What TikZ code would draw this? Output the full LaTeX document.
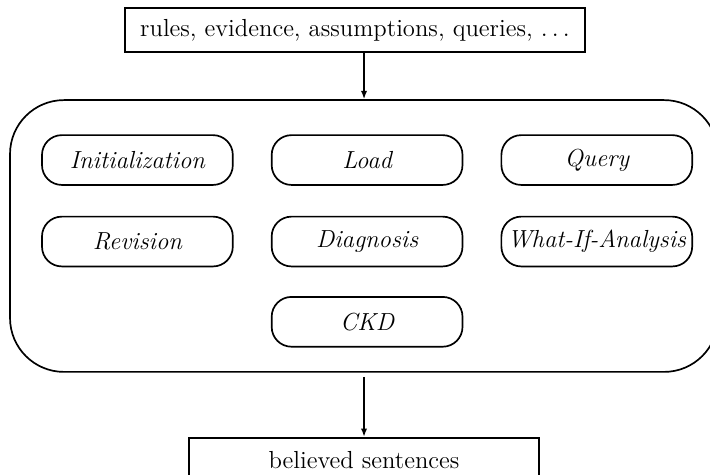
\documentclass[tikz,border=0pt]{standalone}
\usetikzlibrary{positioning, arrows.meta}

\begin{document}
\begin{tikzpicture}[
  every node/.style={font=\fontsize{11.7}{14}\selectfont},
  io/.style={draw, line width=1pt, minimum height=0.72cm},
  task/.style={draw, line width=0.8pt, rounded corners=0.33cm,
    minimum width=3.18cm, minimum height=0.83cm, inner sep=1pt,
    font=\fontsize{11.7}{14}\selectfont\itshape},
  flow/.style={-{Latex[length=4pt,width=3pt]}, line width=1pt}]
  \useasboundingbox (0,0) rectangle (11.833,-7.9);

  \node[io, minimum width=7.67cm] (input) at (5.917,-0.5)
  {rules, evidence, assumptions, queries, $\ldots$};

  \node[draw, line width=0.8pt, rounded corners=0.9cm,
  minimum width=11.8cm, minimum height=4.53cm] (system) at (6.067,-3.933) {};

  \node[task] (init) at (2.29,-2.667) {Initialization};
  \node[task, right=0.62cm of init] (load) {Load};
  \node[task, right=0.62cm of load] (query) {Query};
  \node[task, below=0.5cm of init] (revision) {Revision};
  \node[task, below=0.5cm of load] (diagnosis) {Diagnosis};
  \node[task, below=0.5cm of query] (whatif) {What-If-Analysis};
  \node[task, below=0.48cm of diagnosis] (ckd) {CKD};

  \node[io, minimum width=5.83cm, below=1.07cm of system] (output)
  {believed sentences};

  \draw[flow] (input.south -| system.north) -- (system.north);
  \draw[flow, shorten <=2pt] (system.south) -- (output.north);
\end{tikzpicture}
\end{document}
